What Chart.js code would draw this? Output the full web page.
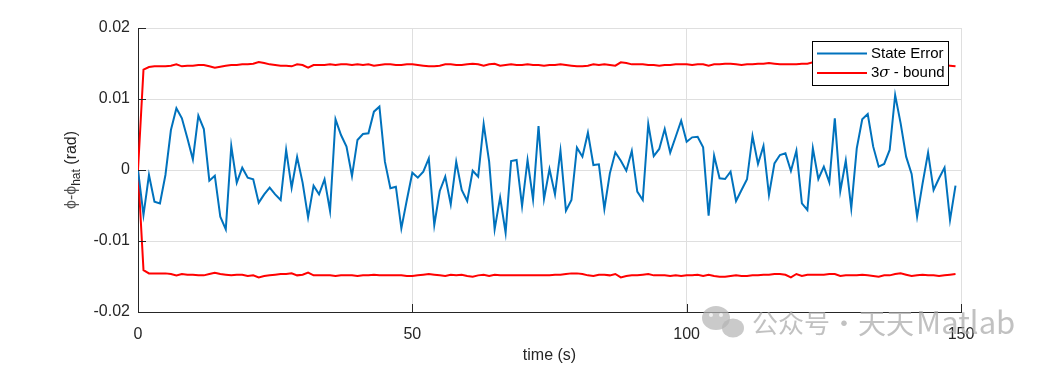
<!DOCTYPE html>
<html>
<head>
<meta charset="utf-8">
<script src="https://cdn.jsdelivr.net/npm/chart.js@4.4.1/dist/chart.umd.min.js"></script>
<style>
  html, body { margin: 0; padding: 0; background: #fff; }
  canvas { display: block; }
</style>
</head>
<body>
<canvas id="grafico" width="1063" height="367"></canvas>
<script>
// time (s)
var tempos = [
  0,1,2,3,4,5,6,7,8,9,10,11,12,13,14,15,16,17,18,19,
  20,21,22,23,24,25,26,27,28,29,30,31,32,33,34,35,36,37,38,39,
  40,41,42,43,44,45,46,47,48,49,50,51,52,53,54,55,56,57,58,59,
  60,61,62,63,64,65,66,67,68,69,70,71,72,73,74,75,76,77,78,79,
  80,81,82,83,84,85,86,87,88,89,90,91,92,93,94,95,96,97,98,99,
  100,101,102,103,104,105,106,107,108,109,110,111,112,113,114,115,116,117,118,119,
  120,121,122,123,124,125,126,127,128,129,130,131,132,133,134,135,136,137,138,139,
  140,141,142,143,144,145,146,147,148,149
];

// state error (rad)
var erroEstado = [
  0, -0.00634, -0.0007, -0.00446, -0.0047, -0.0007, 0.00563, 0.00869, 0.00728, 0.00446,
  0.0015, 0.00765, 0.00577, -0.0015, -0.0008, -0.00657, -0.00836, 0.00338, -0.00178, 0.00033,
  -0.00108, -0.00131, -0.0046, -0.00343, -0.00249, -0.00343, -0.00423, 0.00282, -0.00249, 0.00183,
  -0.00178, -0.00667, -0.0022, -0.00343, -0.00131, -0.00577, 0.00714, 0.00493, 0.00329, -0.00085,
  0.00423, 0.00507, 0.00516, 0.00822, 0.00892, 0.00117, -0.00258, -0.00235, -0.00822, -0.00423,
  -0.00038, -0.00108, -0.00023, 0.00164, -0.00775, -0.00296, -0.00094, -0.00484, 0.00117, -0.00282,
  -0.00437, -0.0001, -0.00094, 0.00648, 0.00117, -0.00836, -0.00385, -0.00883, 0.00127, 0.00141,
  -0.00507, 0.00141, -0.00413, 0.0062, -0.00408, 0.00014, -0.00343, 0.00272, -0.00573, -0.00423,
  0.00315, 0.00188, 0.00526, 0.0007, 0.0008, -0.00549, -0.00047, 0.00249, 0.00131, -0.0001,
  0.00268, -0.00305, -0.00423, 0.00648, 0.00197, 0.00296, 0.00577, 0.00244, 0.00469, 0.00695,
  0.00399, 0.0046, 0.00469, 0.00319, -0.00643, 0.00202, -0.00117, -0.00127, -0.00023, -0.00437,
  -0.00282, -0.00131, 0.00479, 0.00085, 0.00338, -0.00352, 0.00094, 0.00211, 0.00235, -0.00014,
  0.00272, -0.0047, -0.00563, 0.00305, -0.00127, 0.00047, -0.00174, 0.00728, -0.00296, 0.00131,
  -0.0054, 0.00305, 0.00714, 0.00789, 0.00329, 0.00047, 0.00085, 0.00282, 0.01056, 0.00657,
  0.00188, -0.00056, -0.00657, -0.00188, 0.00244, -0.00282, -0.00117, 0.00033, -0.00704, -0.0022
];

// +3 sigma bound
var limiteSup = [
  0, 0.01413, 0.0145, 0.0146, 0.0146, 0.0146, 0.01469, 0.01488, 0.0146, 0.01469,
  0.01469, 0.01478, 0.01478, 0.0146, 0.01441, 0.01455, 0.01469, 0.01478, 0.01478, 0.01488,
  0.01488, 0.01497, 0.01521, 0.01507, 0.01488, 0.01478, 0.01469, 0.01469, 0.0146, 0.01488,
  0.01478, 0.01441, 0.01478, 0.01478, 0.01478, 0.01488, 0.01478, 0.01488, 0.01488, 0.01478,
  0.01488, 0.01478, 0.01488, 0.01469, 0.01478, 0.01488, 0.01488, 0.01478, 0.01478, 0.01488,
  0.01488, 0.01478, 0.01469, 0.0146, 0.0146, 0.01469, 0.01488, 0.01488, 0.01478, 0.01478,
  0.01488, 0.01497, 0.01488, 0.01469, 0.01488, 0.01497, 0.01469, 0.01478, 0.01488, 0.01478,
  0.01478, 0.01488, 0.01478, 0.01478, 0.01469, 0.01478, 0.01478, 0.01488, 0.01478, 0.01469,
  0.0146, 0.0146, 0.01469, 0.01488, 0.01478, 0.01488, 0.01478, 0.01469, 0.01516, 0.01507,
  0.01488, 0.01488, 0.01488, 0.01478, 0.01478, 0.01469, 0.01478, 0.01478, 0.01488, 0.01488,
  0.01488, 0.01478, 0.01488, 0.01488, 0.01469, 0.01488, 0.01488, 0.01497, 0.01497, 0.01488,
  0.01478, 0.01488, 0.01488, 0.01497, 0.01497, 0.01507, 0.01497, 0.01488, 0.01488, 0.01488,
  0.01488, 0.01497, 0.01497, 0.01516, 0.01488, 0.01478, 0.01497, 0.01469, 0.01478, 0.01488,
  0.01478, 0.01469, 0.01478, 0.01488, 0.01497, 0.01488, 0.01478, 0.01478, 0.01488, 0.01478,
  0.01469, 0.01478, 0.01488, 0.01478, 0.01488, 0.01497, 0.01488, 0.01478, 0.01469, 0.0146
];

// -3 sigma bound
var limiteInf = [
  0, -0.0141, -0.01456, -0.01456, -0.01456, -0.01456, -0.01465, -0.01484, -0.01465, -0.01475,
  -0.01475, -0.01484, -0.01484, -0.01465, -0.01446, -0.01465, -0.01475, -0.01484, -0.01475, -0.01475,
  -0.01493, -0.01484, -0.01512, -0.01493, -0.01484, -0.01475, -0.01465, -0.01465, -0.01456, -0.01484,
  -0.01475, -0.01446, -0.01484, -0.01484, -0.01484, -0.01484, -0.01493, -0.01484, -0.01484, -0.01484,
  -0.01493, -0.01484, -0.01484, -0.01475, -0.01484, -0.01484, -0.01484, -0.01484, -0.01484, -0.01493,
  -0.01493, -0.01484, -0.01475, -0.01465, -0.01475, -0.01484, -0.01493, -0.01475, -0.01484, -0.01475,
  -0.01493, -0.01503, -0.01484, -0.01475, -0.01493, -0.01475, -0.01484, -0.01484, -0.01484, -0.01484,
  -0.01484, -0.01484, -0.01484, -0.01484, -0.01484, -0.01484, -0.01475, -0.01475, -0.01465, -0.01456,
  -0.01456, -0.01465, -0.01484, -0.01493, -0.01475, -0.01475, -0.01484, -0.01465, -0.01512, -0.01493,
  -0.01484, -0.01484, -0.01475, -0.01465, -0.01484, -0.01484, -0.01484, -0.01493, -0.01484, -0.01493,
  -0.01484, -0.01484, -0.01475, -0.01493, -0.01475, -0.01493, -0.01503, -0.01503, -0.01493, -0.01484,
  -0.01493, -0.01493, -0.01484, -0.01484, -0.01475, -0.01475, -0.01465, -0.01465, -0.01475, -0.01512,
  -0.01465, -0.01493, -0.01475, -0.01475, -0.01475, -0.01475, -0.01465, -0.01465, -0.01493, -0.01484,
  -0.01484, -0.01484, -0.01475, -0.01484, -0.01493, -0.01503, -0.01484, -0.01484, -0.01465, -0.01456,
  -0.01475, -0.01493, -0.01484, -0.01475, -0.01484, -0.01484, -0.01493, -0.01484, -0.01475, -0.01465
];

var ticksX = [0, 50, 100, 150];
var rotulosX = ["0", "50", "100", "150"];
var ticksY = [-0.02, -0.01, 0, 0.01, 0.02];
var rotulosY = ["-0.02", "-0.01", "0", "0.01", "0.02"];

var legendas = ["State Error", "3\u03c3 - bound"];
var corAzul = "#0072BD";
var corVermelha = "#FF0000";
var corEixo = "#262626";
var fonte = "'Liberation Sans', Arial, sans-serif";

function pontos(valores) {
    var lista = [];
    for (var i = 0; i < valores.length; i++) {
        lista.push({ x: tempos[i], y: valores[i] });
    }
    return lista;
}

// ticks para dentro, titulos, legenda e marca d'agua
var extras = {
    id: 'extras',
    afterDraw: function(chart) {
        var ctx = chart.ctx;
        var area = chart.chartArea;
        var sx = chart.scales.x;
        var sy = chart.scales.y;

        ctx.save();
        ctx.strokeStyle = corEixo;
        ctx.lineWidth = 1;
        ctx.beginPath();
        for (var i = 0; i < ticksY.length; i++) {
            var py = Math.round(sy.getPixelForValue(ticksY[i])) + 0.5;
            ctx.moveTo(area.left, py);
            ctx.lineTo(area.left + 8, py);
        }
        for (var j = 0; j < ticksX.length; j++) {
            var px = Math.round(sx.getPixelForValue(ticksX[j])) + 0.5;
            ctx.moveTo(px, area.bottom);
            ctx.lineTo(px, area.bottom - 8);
        }
        ctx.stroke();

        // titulo eixo x
        ctx.fillStyle = corEixo;
        ctx.font = "16px " + fonte;
        ctx.textAlign = "center";
        ctx.textBaseline = "middle";
        ctx.fillText("time (s)", (area.left + area.right) / 2, 356);

        // titulo eixo y com subscrito
        ctx.save();
        ctx.translate(72, (area.top + area.bottom) / 2);
        ctx.rotate(-Math.PI / 2);
        ctx.textAlign = "left";
        ctx.textBaseline = "middle";
        var f1 = "16px " + fonte;
        var f2 = "12px " + fonte;
        ctx.font = f1;
        var w1 = ctx.measureText("\u03d5-\u03d5").width;
        var w3 = ctx.measureText(" (rad)").width;
        ctx.font = f2;
        var w2 = ctx.measureText("hat").width;
        var x0 = -(w1 + w2 + w3) / 2;
        ctx.font = f1;
        ctx.fillStyle = "#555";
        ctx.fillText("\u03d5-\u03d5", x0, 0);
        ctx.fillStyle = corEixo;
        ctx.font = f2;
        ctx.fillText("hat", x0 + w1, 5);
        ctx.font = f1;
        ctx.fillText(" (rad)", x0 + w1 + w2, 0);
        ctx.restore();

        // legenda
        var bx = 812.5, by = 41.5, bw = 136, bh = 44;
        ctx.fillStyle = "#fff";
        ctx.fillRect(bx, by, bw, bh);
        ctx.strokeStyle = "#000";
        ctx.strokeRect(bx, by, bw, bh);
        var linhasY = [53.5, 73];
        var cores = [corAzul, corVermelha];
        ctx.lineWidth = 2;
        for (var k = 0; k < 2; k++) {
            ctx.strokeStyle = cores[k];
            ctx.beginPath();
            ctx.moveTo(817, linhasY[k]);
            ctx.lineTo(867, linhasY[k]);
            ctx.stroke();
        }
        ctx.fillStyle = "#000";
        ctx.textAlign = "left";
        ctx.textBaseline = "middle";
        ctx.font = "15px " + fonte;
        ctx.fillText(legendas[0], 871, linhasY[0]);
        // 3σ com sigma em italico
        var partes = legendas[1].split("\u03c3");
        ctx.fillText(partes[0], 871, linhasY[1]);
        var wa = ctx.measureText(partes[0]).width;
        ctx.font = "italic 15px 'DejaVu Serif', serif";
        ctx.fillText("\u03c3", 871 + wa, linhasY[1]);
        var wb = ctx.measureText("\u03c3").width;
        ctx.font = "15px " + fonte;
        ctx.fillText(partes[1], 871 + wa + wb, linhasY[1]);

        // marca d'agua
        ctx.globalAlpha = 0.7;
        ctx.fillStyle = "#b4b4b4";
        ctx.beginPath();
        ctx.ellipse(716, 318, 14, 12, 0, 0, Math.PI * 2);
        ctx.fill();
        ctx.beginPath();
        ctx.ellipse(733, 328, 11, 9.5, 0, 0, Math.PI * 2);
        ctx.fill();
        ctx.fillStyle = "#fff";
        ctx.beginPath();
        ctx.arc(711, 315, 2, 0, Math.PI * 2);
        ctx.arc(721, 315, 2, 0, Math.PI * 2);
        ctx.fill();
        ctx.fillStyle = "#a6a6a6";
        ctx.textBaseline = "middle";
        ctx.font = "26px 'Noto Sans CJK SC', sans-serif";
        ctx.textAlign = "left";
        ctx.fillText("\u516c\u4f17\u53f7", 752, 323);
        ctx.textAlign = "center";
        ctx.fillText("\u00b7", 844, 323);
        ctx.textAlign = "left";
        ctx.font = "28px 'Noto Sans CJK SC', sans-serif";
        ctx.fillText("\u5929\u5929", 858, 323);
        ctx.font = "31px 'Noto Sans CJK SC', sans-serif";
        ctx.fillText("Matlab", 916, 322);
        ctx.restore();
    }
};

var contextoGrafico = document.getElementById('grafico').getContext('2d');

var grafico = new Chart(contextoGrafico, {
    type: 'line',
    data: {
        datasets: [{
            label: legendas[0],
            data: pontos(erroEstado),
            borderColor: corAzul,
            borderWidth: 2,
            pointRadius: 0,
            tension: 0,
            fill: false
        }, {
            label: legendas[1],
            data: pontos(limiteSup),
            borderColor: corVermelha,
            borderWidth: 2,
            pointRadius: 0,
            tension: 0,
            fill: false
        }, {
            label: legendas[1],
            data: pontos(limiteInf),
            borderColor: corVermelha,
            borderWidth: 2,
            pointRadius: 0,
            tension: 0,
            fill: false
        }]
    },
    options: {
        responsive: false,
        animation: false,
        layout: { padding: { left: 0, right: 102, top: 28, bottom: 0 } },
        plugins: {
            legend: { display: false },
            tooltip: { enabled: false }
        },
        scales: {
            x: {
                type: 'linear',
                min: 0,
                max: 150,
                afterBuildTicks: function(s) {
                    s.ticks = ticksX.map(function(v) { return { value: v }; });
                },
                afterFit: function(s) { s.height = 55; },
                ticks: {
                    callback: function(v, i) { return rotulosX[i]; },
                    color: corEixo,
                    font: { size: 16, family: fonte },
                    padding: 13,
                    maxRotation: 0,
                    autoSkip: false
                },
                grid: { color: '#dfdfdf', drawTicks: false },
                border: { color: corEixo, width: 1 }
            },
            y: {
                min: -0.02,
                max: 0.02,
                afterBuildTicks: function(s) {
                    s.ticks = ticksY.map(function(v) { return { value: v }; });
                },
                afterFit: function(s) { s.width = 138; },
                ticks: {
                    callback: function(v, i) { return rotulosY[i]; },
                    color: corEixo,
                    font: { size: 16, family: fonte },
                    padding: 8,
                    autoSkip: false
                },
                grid: { color: '#dfdfdf', drawTicks: false },
                border: { color: corEixo, width: 1 }
            }
        }
    },
    plugins: [extras]
});
</script>
</body>
</html>
